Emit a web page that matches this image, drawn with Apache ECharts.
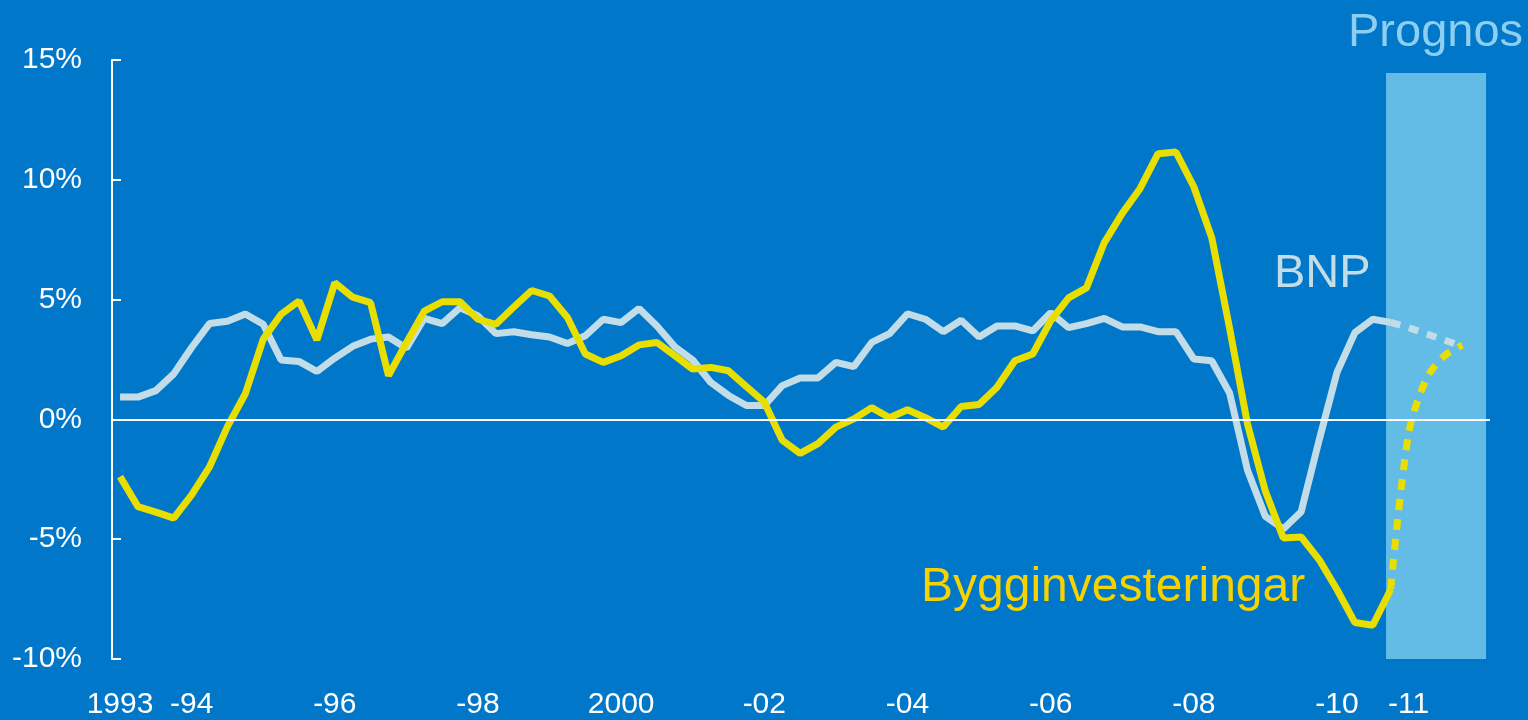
<!DOCTYPE html>
<html>
<head>
<meta charset="utf-8">
<title>BNP och bygginvesteringar</title>
<script src="https://cdn.jsdelivr.net/npm/echarts@6/dist/echarts.min.js"></script>
<style>
  html, body { margin: 0; padding: 0; background: #0077c8; }
  #chart { width: 1528px; height: 720px; }
</style>
</head>
<body>
<div id="chart"></div>
<script>
// kvartal: index 0 = 1993 kv1, 71 = 2010 kv4, 75 = 2011 kv4
const tickIndex = [0, 4, 12, 20, 28, 36, 44, 52, 60, 68, 72];
const tickLabels = ['1993', '-94', '-96', '-98', '2000', '-02', '-04', '-06', '-08', '-10', '-11'];

// BNP, årlig förändring (%)
const bnp = [
  0.93, 0.93, 1.2, 1.9, 3.0, 4.0, 4.1, 4.4, 3.97, 2.48, 2.42, 2.0,
  2.56, 3.05, 3.35, 3.44, 2.97, 4.22, 4.0, 4.66, 4.32, 3.58, 3.66, 3.53,
  3.44, 3.17, 3.49, 4.18, 4.04, 4.63, 3.9, 3.03, 2.48, 1.55, 1.0, 0.58,
  0.58, 1.41, 1.73, 1.73, 2.38, 2.2, 3.21, 3.58, 4.41, 4.18, 3.66, 4.14,
  3.44, 3.9, 3.9, 3.69, 4.45, 3.83, 4.0, 4.22, 3.86, 3.86, 3.66, 3.66,
  2.52, 2.45, 1.1, -2.12, -4.05, -4.57, -3.85, -0.87, 1.96, 3.62, 4.18, 4.05
];
// Bygginvesteringar, årlig förändring (%)
const bygg = [
  -2.39, -3.64, -3.87, -4.12, -3.15, -1.98, -0.3, 1.07, 3.35, 4.39, 4.94, 3.32,
  5.7, 5.1, 4.87, 1.83, 3.2, 4.52, 4.91, 4.91, 4.18, 3.97, 4.69, 5.38,
  5.15, 4.25, 2.73, 2.38, 2.66, 3.11, 3.21, 2.66, 2.1, 2.17, 2.03, 1.37,
  0.72, -0.87, -1.42, -1.01, -0.32, 0.02, 0.49, 0.07, 0.4, 0.07, -0.32, 0.54,
  0.62, 1.34, 2.45, 2.73, 4.11, 5.07, 5.49, 7.38, 8.6, 9.64, 11.09, 11.16,
  9.71, 7.59, 3.8, -0.2, -3.0, -4.95, -4.91, -5.85, -7.1, -8.48, -8.59, -7.1
];
// prognos, index 71..75
const prognosStart = 71;
const bnpPrognos = [4.05, 3.83, 3.57, 3.31, 3.05];
const byggPrognos = [-7.1, -0.6, 1.7, 2.65, 3.1];
const prognosBand = [70.74, 76.33, -10, 14.46];

const toPairs = (arr, start) => arr.map((v, i) => [start + i, v]);

const colors = {
  bg: '#0077c8',
  bnp: '#c2dde8',
  bygg: '#e8df00',
  byggText: '#f5d200',
  band: '#62bce6',
  prognosText: '#8ccff0'
};
const font = 'Liberation Sans, Arial, sans-serif';

var chart = echarts.init(document.getElementById('chart'));

var option = {
  backgroundColor: colors.bg,
  animation: false,
  grid: { left: 112, right: 38, top: 60, bottom: 60 },
  xAxis: {
    type: 'value',
    min: -0.45,
    max: 76.55,
    axisLine: { show: false, onZero: false },
    axisTick: { show: false },
    splitLine: { show: false },
    axisLabel: {
      customValues: tickIndex,
      color: '#fff',
      fontSize: 30,
      fontFamily: font,
      margin: 31,
      formatter: (v) => tickLabels[tickIndex.indexOf(Math.round(v))] || ''
    }
  },
  yAxis: {
    type: 'value',
    min: -10,
    max: 15,
    interval: 5,
    axisLine: { show: true, onZero: false, lineStyle: { color: '#fff', width: 2 } },
    axisTick: { show: true, inside: true, length: 9, lineStyle: { color: '#fff', width: 2 } },
    splitLine: { show: false },
    axisLabel: { color: '#fff', fontSize: 30, fontFamily: font, margin: 30, formatter: '{value}%' }
  },
  graphic: [
    { type: 'text', left: 1348, top: 10, style: { text: 'Prognos', fill: colors.prognosText, font: '47px ' + font } },
    { type: 'text', left: 1274, top: 251, style: { text: 'BNP', fill: colors.bnp, font: '47px ' + font } },
    { type: 'text', left: 921, top: 564, style: { text: 'Bygginvesteringar', fill: colors.byggText, font: '48px ' + font } }
  ],
  series: [
    {
      name: 'BNP',
      type: 'line',
      z: 2,
      showSymbol: false,
      data: toPairs(bnp, 0),
      lineStyle: { color: colors.bnp, width: 7 },
      markArea: {
        silent: true,
        itemStyle: { color: colors.band },
        data: [[
          { xAxis: prognosBand[0], yAxis: prognosBand[2] },
          { xAxis: prognosBand[1], yAxis: prognosBand[3] }
        ]]
      },
      markLine: {
        silent: true,
        symbol: 'none',
        label: { show: false },
        lineStyle: { color: '#fff', width: 2, type: 'solid' },
        data: [{ yAxis: 0 }]
      }
    },
    {
      name: 'BNP prognos',
      type: 'line',
      z: 3,
      showSymbol: false,
      data: toPairs(bnpPrognos, prognosStart),
      lineStyle: { color: colors.bnp, width: 7, type: [10, 9] }
    },
    {
      name: 'Bygginvesteringar',
      type: 'line',
      z: 4,
      showSymbol: false,
      data: toPairs(bygg, 0),
      lineStyle: { color: colors.bygg, width: 7 }
    },
    {
      name: 'Bygginvesteringar prognos',
      type: 'line',
      z: 4,
      showSymbol: false,
      smooth: 0.3,
      data: toPairs(byggPrognos, prognosStart),
      lineStyle: { color: colors.bygg, width: 7, type: [11, 9] }
    }
  ]
};

chart.setOption(option);
</script>
</body>
</html>
